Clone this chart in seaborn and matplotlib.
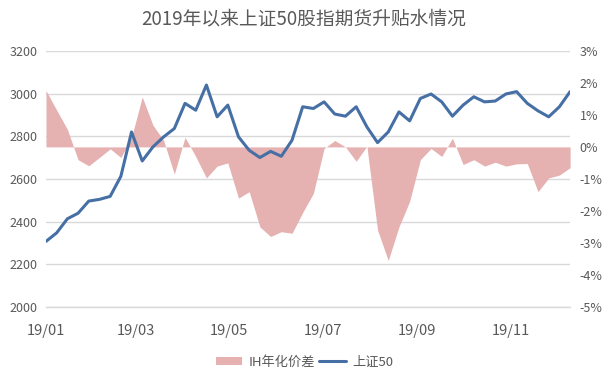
import pandas as pd
import seaborn as sns
import matplotlib.pyplot as plt
from matplotlib.patches import Patch
from matplotlib.lines import Line2D
from matplotlib.ticker import LinearLocator

# Weekly observations through 2019
dates = pd.date_range('2019-01-04', periods=50, freq='7D')

# 上证50 index level (left axis)
sz50 = [2307, 2347, 2413, 2439, 2496, 2504, 2518, 2612, 2820, 2684,
        2750, 2797, 2836, 2954, 2922, 3040, 2891, 2946, 2797, 2734,
        2700, 2729, 2706, 2781, 2938, 2930, 2961, 2904, 2894, 2938,
        2844, 2770, 2820, 2914, 2872, 2977, 2998, 2961, 2894, 2946,
        2985, 2961, 2965, 2998, 3009, 2954, 2919, 2891, 2938, 3009]

# IH annualised basis in % (right axis)
ih_basis = [1.76, 1.15, 0.55, -0.40, -0.59, -0.33, -0.06, -0.33, 0.30, 1.56,
            0.68, 0.20, -0.85, 0.30, -0.30, -0.97, -0.60, -0.50, -1.60, -1.40,
            -2.50, -2.80, -2.65, -2.70, -2.05, -1.45, -0.05, 0.20, 0.00, -0.45,
            0.02, -2.60, -3.55, -2.50, -1.70, -0.40, -0.05, -0.30, 0.27, -0.55,
            -0.40, -0.60, -0.48, -0.60, -0.53, -0.52, -1.40, -0.97, -0.88, -0.65]

x_tick_dates = ['2019-01-04', '2019-03-04', '2019-05-04',
                '2019-07-04', '2019-09-04', '2019-11-04']
x_tick_labels = ['19/01', '19/03', '19/05', '19/07', '19/09', '19/11']
left_ticks = [2000, 2200, 2400, 2600, 2800, 3000, 3200]
right_ticks = [-5, -4, -3, -2, -1, 0, 1, 2, 3]

title = '2019年以来上证50股指期货升贴水情况'
area_label = 'IH年化价差'
line_label = '上证50'

pink = '#E5B1B1'
blue = '#4670A5'
grey_text = '#595959'
grid_col = '#D9D9D9'

sns.set_style('white')
plt.rcParams['font.family'] = ['Noto Sans CJK SC', 'DejaVu Sans']

df = pd.DataFrame({'date': dates, 'sz50': sz50, 'ih': ih_basis})

fig, ax = plt.subplots(figsize=(6.13, 3.77), dpi=100)
fig.subplots_adjust(left=0.075, right=0.93, top=0.865, bottom=0.186)
ax2 = ax.twinx()

# area on the right axis, gridlines (left-axis steps) drawn behind it
ax2.fill_between(df['date'], 0, df['ih'], color=pink, linewidth=0, zorder=2)
ax2.set_ylim(-5, 3)
ax2.set_yticks(right_ticks, [f'{v}%' for v in right_ticks])
ax2.yaxis.set_minor_locator(LinearLocator(len(left_ticks)))
ax2.yaxis.remove_overlapping_locs = False
ax2.grid(which='minor', axis='y', color=grid_col, linewidth=1)
ax2.set_axisbelow(True)
ax2.tick_params(axis='y', which='both', length=0)
ax2.tick_params(axis='y', labelsize=9, labelcolor=grey_text, pad=7)
ax2.set_ylabel('')

# line on the left axis, above the area
ax.set_zorder(ax2.get_zorder() + 1)
ax.patch.set_visible(False)
sns.lineplot(data=df, x='date', y='sz50', ax=ax, color=blue, linewidth=2.2)
ax.set_ylim(2000, 3200)
ax.set_yticks(left_ticks)
ax.set_xlim(dates[0], dates[-1])
ax.set_xticks(pd.to_datetime(x_tick_dates), x_tick_labels)
ax.tick_params(axis='y', length=0, labelsize=9, labelcolor=grey_text, pad=6)
ax.tick_params(axis='x', length=4, width=1, color=grid_col, labelsize=10.5,
               labelcolor=grey_text, pad=8)
ax.set_xlabel('')
ax.set_ylabel('')

for a in (ax, ax2):
    for s in ('top', 'left', 'right', 'bottom'):
        a.spines[s].set_visible(False)
ax.spines['bottom'].set_visible(True)
ax.spines['bottom'].set_color(grid_col)
ax.spines['bottom'].set_linewidth(1)

fig.text(0.496, 1 - 19 / 377, title, ha='center', va='center',
         fontsize=13.5, color=grey_text)

handles = [Patch(facecolor=pink, edgecolor='none'),
           Line2D([], [], color=blue, linewidth=2.2)]
fig.legend(handles, [area_label, line_label], loc='center',
           bbox_to_anchor=(0.497, 1 - 362 / 377), ncol=2, frameon=False,
           fontsize=9.5, labelcolor=grey_text, handlelength=2.0,
           handleheight=0.6, handletextpad=0.5, columnspacing=0.3)

fig.savefig('out.png', dpi=100)
